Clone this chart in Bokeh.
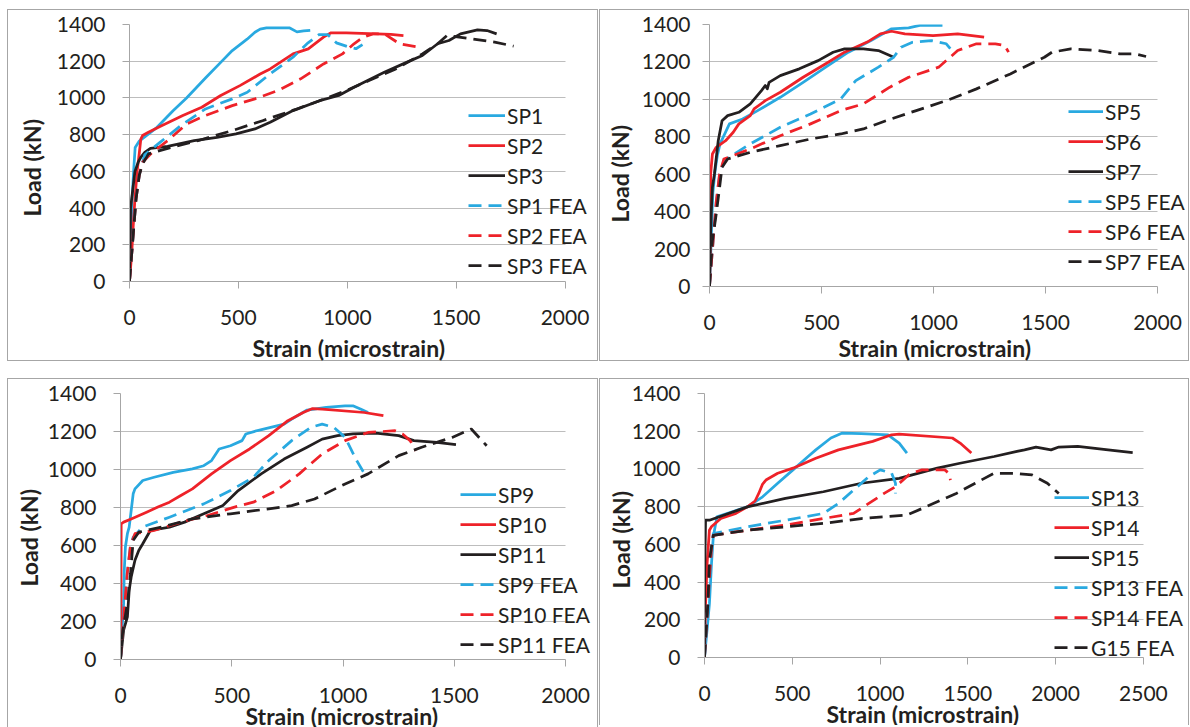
from bokeh.plotting import figure
from bokeh.models import Range1d, Legend, LegendItem, FixedTicker, Title
from bokeh.layouts import column, row
from bokeh.embed import file_html
from bokeh.resources import INLINE

# ---------------- data ----------------
y_ticks = [0, 200, 400, 600, 800, 1000, 1200, 1400]
x_ticks_2000 = [0, 500, 1000, 1500, 2000]
x_ticks_2500 = [0, 500, 1000, 1500, 2000, 2500]

# Panel 1
sp1_x = [0, 5, 12, 20, 26, 45, 61, 122, 200, 262, 350, 420, 472, 540, 576, 600, 629, 734, 769, 800, 830]
sp1_y = [0, 200, 450, 620, 730, 765, 780, 835, 930, 1000, 1110, 1195, 1258, 1320, 1358, 1375, 1382, 1382, 1360, 1365, 1368]
sp2_x = [0, 10, 17, 25, 35, 45, 52, 60, 87, 140, 245, 332, 419, 507, 600, 646, 751, 821, 891, 926, 996, 1135, 1200, 1258]
sp2_y = [0, 150, 300, 450, 600, 700, 776, 795, 813, 844, 904, 949, 1013, 1067, 1130, 1158, 1240, 1267, 1331, 1355, 1355, 1349, 1346, 1340]
sp3_x = [0, 3, 5, 15, 25, 40, 52, 70, 96, 175, 297, 402, 489, 576, 646, 751, 873, 961, 1031, 1170, 1275, 1345, 1415, 1467, 1520, 1598, 1642, 1686]
sp3_y = [0, 200, 400, 500, 600, 650, 676, 704, 725, 736, 767, 785, 804, 831, 867, 931, 985, 1013, 1058, 1140, 1195, 1231, 1295, 1313, 1349, 1371, 1367, 1349]
sp1fea_x = [0, 10, 20, 30, 45, 60, 70, 140, 245, 349, 472, 541, 646, 751, 820, 870, 910, 950, 1000, 1040, 1070]
sp1fea_y = [0, 150, 300, 450, 580, 650, 690, 758, 858, 940, 995, 1031, 1131, 1222, 1300, 1345, 1345, 1300, 1280, 1268, 1290]
sp2fea_x = [0, 10, 20, 30, 45, 60, 105, 175, 262, 349, 472, 576, 681, 786, 891, 978, 1031, 1074, 1118, 1170, 1240, 1328]
sp2fea_y = [0, 150, 300, 450, 580, 650, 704, 767, 858, 904, 958, 995, 1040, 1104, 1185, 1240, 1295, 1331, 1349, 1349, 1295, 1276]
sp3fea_x = [0, 10, 20, 30, 45, 60, 87, 192, 314, 472, 611, 769, 873, 996, 1100, 1223, 1345, 1415, 1458, 1572, 1677, 1764]
sp3fea_y = [0, 150, 300, 450, 580, 640, 695, 731, 767, 822, 876, 940, 985, 1040, 1095, 1158, 1240, 1295, 1340, 1322, 1304, 1282]

# Panel 2
sp5_x = [0, 5, 10, 15, 25, 35, 47, 89, 148, 215, 316, 418, 519, 620, 721, 813, 889, 939, 1040]
sp5_y = [0, 150, 350, 500, 620, 700, 762, 869, 895, 940, 1011, 1091, 1172, 1252, 1314, 1377, 1382, 1395, 1395]
sp6_x = [0, 3, 5, 5, 13, 30, 72, 106, 131, 182, 199, 249, 316, 418, 519, 603, 704, 763, 813, 872, 998, 1108, 1226]
sp6_y = [0, 150, 400, 601, 708, 744, 779, 824, 869, 913, 949, 993, 1038, 1118, 1190, 1252, 1306, 1350, 1364, 1350, 1341, 1350, 1332]
sp7_x = [0, 3, 8, 13, 22, 39, 56, 81, 131, 182, 232, 249, 258, 266, 316, 401, 485, 552, 603, 687, 754, 805, 822]
sp7_y = [0, 200, 400, 530, 601, 779, 886, 913, 931, 976, 1047, 1074, 1056, 1091, 1127, 1163, 1207, 1252, 1270, 1270, 1261, 1234, 1225]
sp5fea_x = [0, 10, 20, 30, 45, 64, 182, 316, 451, 586, 653, 754, 822, 855, 906, 990, 1057, 1082]
sp5fea_y = [0, 150, 300, 450, 600, 672, 762, 851, 922, 1002, 1100, 1172, 1225, 1279, 1305, 1314, 1297, 1261]
sp6fea_x = [0, 10, 20, 30, 45, 64, 182, 316, 451, 586, 687, 805, 889, 1023, 1074, 1108, 1192, 1276, 1318, 1335]
sp6fea_y = [0, 150, 300, 450, 600, 681, 735, 806, 869, 940, 976, 1065, 1118, 1172, 1225, 1261, 1297, 1297, 1288, 1252]
sp7fea_x = [0, 13, 30, 47, 56, 81, 182, 316, 451, 586, 687, 788, 923, 1057, 1192, 1343, 1495, 1529, 1613, 1731, 1832, 1899, 1949]
sp7fea_y = [0, 244, 387, 548, 637, 681, 717, 753, 788, 815, 842, 886, 940, 993, 1056, 1136, 1225, 1252, 1270, 1261, 1243, 1243, 1229]

# Panel 3
sp9_x = [0, 5, 14, 17, 22, 31, 39, 48, 57, 65, 100, 151, 237, 323, 374, 409, 443, 494, 546, 563, 615, 735, 769, 838, 924, 1009, 1044, 1078, 1112]
sp9_y = [0, 119, 294, 469, 592, 662, 697, 784, 872, 898, 942, 959, 985, 1003, 1020, 1047, 1108, 1125, 1152, 1187, 1205, 1239, 1265, 1313, 1327, 1335, 1335, 1318, 1300]
sp10_x = [0, 2, 3, 14, 48, 117, 168, 220, 271, 323, 409, 494, 580, 666, 752, 821, 863, 906, 1095, 1181]
sp10_y = [0, 100, 714, 723, 740, 775, 802, 828, 863, 898, 977, 1047, 1108, 1178, 1257, 1300, 1321, 1318, 1300, 1283]
sp11_x = [0, 14, 31, 39, 48, 65, 82, 100, 134, 220, 288, 374, 460, 529, 632, 735, 838, 906, 975, 1044, 1147, 1250, 1318, 1421, 1507]
sp11_y = [0, 154, 224, 364, 434, 522, 574, 609, 679, 697, 723, 767, 810, 889, 977, 1055, 1117, 1160, 1178, 1187, 1192, 1178, 1152, 1143, 1131]
sp9fea_x = [0, 10, 20, 30, 45, 57, 100, 220, 374, 494, 597, 666, 769, 855, 906, 958, 1009, 1061, 1100]
sp9fea_y = [0, 150, 300, 450, 600, 644, 697, 749, 819, 889, 959, 1047, 1152, 1222, 1239, 1222, 1169, 1047, 970]
sp10fea_x = [0, 10, 20, 30, 45, 65, 151, 271, 391, 512, 597, 700, 803, 906, 1009, 1112, 1233, 1267, 1301, 1327]
sp10fea_y = [0, 150, 300, 450, 600, 662, 679, 723, 758, 802, 828, 889, 977, 1082, 1152, 1195, 1204, 1187, 1152, 1099]
sp11fea_x = [0, 10, 31, 45, 57, 82, 185, 323, 494, 666, 769, 872, 1009, 1112, 1250, 1353, 1490, 1576, 1645]
sp11fea_y = [0, 150, 294, 450, 627, 670, 697, 740, 767, 793, 810, 845, 924, 977, 1073, 1117, 1169, 1213, 1125]

# Panel 4
sp13_x = [0, 15, 28, 40, 50, 71, 158, 244, 331, 417, 504, 590, 634, 720, 785, 893, 1045, 1109, 1153]
sp13_y = [0, 150, 284, 500, 640, 746, 773, 799, 852, 924, 995, 1066, 1101, 1164, 1190, 1187, 1181, 1137, 1084]
sp14_x = [0, 3, 6, 15, 28, 39, 93, 179, 244, 288, 309, 331, 350, 417, 504, 634, 763, 958, 1066, 1109, 1412, 1456, 1520]
sp14_y = [0, 150, 284, 500, 675, 693, 737, 764, 799, 830, 870, 920, 941, 977, 1004, 1057, 1101, 1146, 1181, 1185, 1164, 1137, 1084]
sp15_x = [0, 0, 6, 28, 244, 461, 677, 893, 1109, 1326, 1455, 1650, 1780, 1823, 1888, 1974, 2018, 2126, 2299, 2439]
sp15_y = [0, 373, 728, 728, 799, 844, 879, 924, 950, 1004, 1030, 1066, 1093, 1101, 1116, 1101, 1116, 1119, 1101, 1087]
sp13fea_x = [0, 10, 20, 30, 40, 50, 244, 461, 677, 763, 849, 936, 1001, 1066, 1088, 1088]
sp13fea_y = [0, 150, 300, 450, 580, 657, 693, 728, 764, 817, 888, 959, 995, 977, 924, 870]
sp14fea_x = [0, 10, 20, 30, 40, 50, 244, 461, 677, 849, 936, 1023, 1088, 1174, 1239, 1369, 1391, 1401]
sp14fea_y = [0, 150, 300, 450, 580, 648, 675, 702, 737, 764, 817, 870, 906, 977, 995, 995, 977, 941]
g15fea_x = [0, 10, 20, 28, 50, 244, 461, 677, 893, 1153, 1261, 1434, 1542, 1650, 1758, 1866, 1953, 2018]
g15fea_y = [0, 150, 300, 515, 648, 675, 693, 711, 737, 755, 799, 870, 924, 977, 977, 968, 924, 870]

# ---------------- styling ----------------
BLUE = "#29A9E0"
RED = "#EE2229"
BLACK = "#231F20"
GRID = "#BDBDBD"
AXIS = "#A6A6A6"
TEXT = "#231F20"
FONT = "Lato"
DASH = "13 7"
LW = 2.75


def top_shadow(d):
    # full box border, with the bottom edge drawn d px above the element's bottom
    return (f"inset 0 -{d}px 0 0 #ffffff, inset 0 -{d + 1}px 0 0 #A6A6A6, "
            "inset 0 0 0 1px #A6A6A6")


BOT_SHADOW = "inset 1px 1px 0 0 #A6A6A6, inset -1px 0 0 0 #A6A6A6"


def make_panel(series, xmax, xticks, W, H, bl, bt, bb, plot_px, legend_pos, glyph_w,
               ystand, ytitle, xtitle, margin, shadow):
    # the frame runs to the right edge of the panel so that the legend is not clipped;
    # the x axis and the grid lines stop at xmax.
    frame_w = W - bl
    x_end = xmax * frame_w / plot_px
    p = figure(width=W, height=H, x_range=Range1d(0, x_end), y_range=Range1d(0, 1400),
               output_backend="svg", toolbar_location=None,
               min_border_left=bl, min_border_right=0, min_border_top=bt, min_border_bottom=bb)
    p.margin = margin
    p.styles = {"box-shadow": shadow}
    p.border_fill_color = None
    p.background_fill_color = None
    p.outline_line_color = None
    p.xgrid.visible = False
    p.ygrid.ticker = FixedTicker(ticks=y_ticks)
    p.ygrid.grid_line_color = GRID
    p.ygrid.grid_line_width = 1
    p.ygrid.cross_bounds = (0, xmax)
    p.xaxis.ticker = FixedTicker(ticks=xticks)
    p.xaxis.bounds = (0, xmax)
    p.yaxis.ticker = FixedTicker(ticks=y_ticks)
    for ax in (p.xaxis[0], p.yaxis[0]):
        ax.axis_line_color = AXIS
        ax.major_tick_line_color = AXIS
        ax.minor_tick_line_color = None
        ax.major_tick_out = 7
        ax.major_tick_in = 0
        ax.major_label_text_font = FONT
        ax.major_label_text_font_size = "21px"
        ax.major_label_text_color = TEXT
    p.xaxis[0].major_label_standoff = 21
    p.yaxis[0].major_label_standoff = ystand

    items = []
    for label, xs, ys, color, dashed in series:
        r = p.line(xs, ys, line_color=color, line_width=LW,
                   line_dash=DASH if dashed else "solid", line_join="round")
        items.append(LegendItem(label=label, renderers=[r]))
    leg = Legend(items=items, location=legend_pos, padding=0, margin=0, spacing=2,
                 glyph_width=glyph_w, glyph_height=28, label_height=28, label_standoff=2,
                 border_line_color=None, background_fill_alpha=0,
                 label_text_font=FONT, label_text_font_size="21px", label_text_color=TEXT)
    p.add_layout(leg)

    yoff, ystd = ytitle
    p.add_layout(Title(text="Load (kN)", align="left", offset=yoff, vertical_align="bottom",
                       standoff=ystd, text_font=FONT, text_font_style="bold",
                       text_font_size="23px", text_color=TEXT), "left")
    xoff, xstd = xtitle
    p.add_layout(Title(text="Strain (microstrain)", align="left", offset=xoff,
                       vertical_align="top", standoff=xstd, text_font=FONT,
                       text_font_style="bold", text_font_size="23px", text_color=TEXT), "below")
    return p


# plots in one row share their top and bottom borders, so each row uses one pair
ROW1_TOP, ROW1_BOT = 15, 90
ROW2_TOP, ROW2_BOT = 15, 68

p1 = make_panel([
    ("SP1", sp1_x, sp1_y, BLUE, False),
    ("SP2", sp2_x, sp2_y, RED, False),
    ("SP3", sp3_x, sp3_y, BLACK, False),
    ("SP1 FEA", sp1fea_x, sp1fea_y, BLUE, True),
    ("SP2 FEA", sp2fea_x, sp2fea_y, RED, True),
    ("SP3 FEA", sp3fea_x, sp3fea_y, BLACK, True),
], 2000, x_ticks_2000, 591, 362, 119, ROW1_TOP, ROW1_BOT, 438.3, (339, 2), 37, 17,
    (65, 16), (123, 12), (9, 1, 0, 7), top_shadow(10))

p2 = make_panel([
    ("SP5", sp5_x, sp5_y, BLUE, False),
    ("SP6", sp6_x, sp6_y, RED, False),
    ("SP7", sp7_x, sp7_y, BLACK, False),
    ("SP5 FEA", sp5fea_x, sp5fea_y, BLUE, True),
    ("SP6 FEA", sp6fea_x, sp6fea_y, RED, True),
    ("SP7 FEA", sp7fea_x, sp7fea_y, BLACK, True),
], 2000, x_ticks_2000, 590, 367, 107, ROW1_TOP, ROW1_BOT, 450.8, (359, 11), 35, 12,
    (64, 9), (129, 2), (9, 0, 0, 0), top_shadow(15))

p3 = make_panel([
    ("SP9", sp9_x, sp9_y, BLUE, False),
    ("SP10", sp10_x, sp10_y, RED, False),
    ("SP11", sp11_x, sp11_y, BLACK, False),
    ("SP9 FEA", sp9fea_x, sp9fea_y, BLUE, True),
    ("SP10 FEA", sp10fea_x, sp10fea_y, RED, True),
    ("SP11 FEA", sp11fea_x, sp11fea_y, BLACK, True),
], 2000, x_ticks_2000, 591, 349, 113, ROW2_TOP, ROW2_BOT, 445.2, (340, 1), 36, 17,
    (73, 3), (125, -8), (2, 1, 0, 7), BOT_SHADOW)

p4 = make_panel([
    ("SP13", sp13_x, sp13_y, BLUE, False),
    ("SP14", sp14_x, sp14_y, RED, False),
    ("SP15", sp15_x, sp15_y, BLACK, False),
    ("SP13 FEA", sp13fea_x, sp13fea_y, BLUE, True),
    ("SP14 FEA", sp14fea_x, sp14fea_y, RED, True),
    ("G15 FEA", g15fea_x, g15fea_y, BLACK, True),
], 2500, x_ticks_2500, 590, 347, 105, ROW2_TOP, ROW2_BOT, 438.9, (350, -4), 35, 17,
    (69, -12), (122, -8), (2, 0, 0, 0), BOT_SHADOW)

layout = column(row(p1, p2), row(p3, p4))

open("out.html", "w").write(file_html(layout, INLINE))
